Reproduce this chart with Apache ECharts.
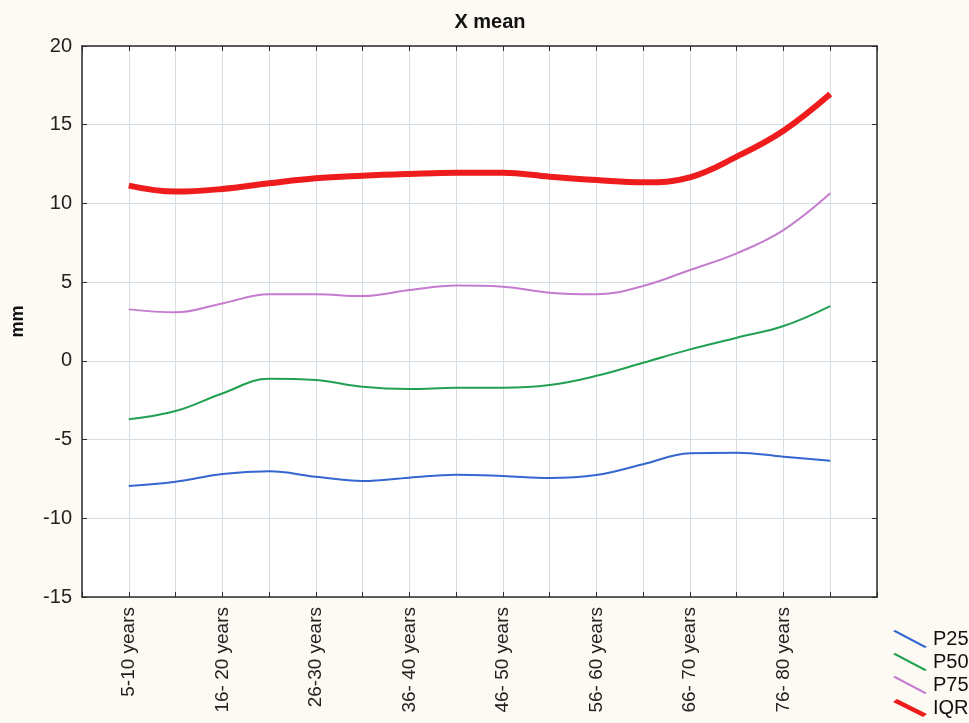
<!DOCTYPE html>
<html>
<head>
<meta charset="utf-8">
<script src="https://cdn.jsdelivr.net/npm/echarts@6/dist/echarts.min.js"></script>
<style>
html,body{margin:0;padding:0;background:#fdfaf3;}
#c{width:969px;height:723px;}
</style>
</head>
<body>
<div id="c"></div>
<script>
const categories = ['5-10 years','11-15 years','16- 20 years','21-25 years','26-30 years','31-35 years','36- 40 years','41-45 years','46- 50 years','51-55 years','56- 60 years','61-65 years','66- 70 years','71-75 years','76- 80 years','81-85 years'];
const P25 = [-7.95,-7.68,-7.19,-7.02,-7.36,-7.63,-7.42,-7.23,-7.31,-7.44,-7.25,-6.57,-5.87,-5.83,-6.09,-6.34];
const P50 = [-3.71,-3.19,-2.07,-1.14,-1.22,-1.65,-1.79,-1.71,-1.71,-1.54,-0.95,-0.12,0.73,1.47,2.21,3.48];
const P75 = [3.27,3.08,3.65,4.23,4.23,4.12,4.50,4.78,4.71,4.33,4.23,4.76,5.77,6.83,8.31,10.64];
const IQR = [11.13,10.75,10.92,11.28,11.60,11.76,11.87,11.95,11.95,11.70,11.49,11.34,11.66,12.97,14.62,16.95];
const yTicks = {min:-15, max:20, interval:5};

const cats = [''].concat(categories, ['']);
const pad = a => [null].concat(a, [null]);
const axisColor = '#2b2b2b';
const gridColor = '#d3dee5';
const FONT = 'Liberation Sans, Arial, sans-serif';

const chart = echarts.init(document.getElementById('c'));
const thin = 'path://M0,1.2 L2.2,0 L34,16.8 L31.8,18 Z';
const thick = 'path://M0,3 L4,0 L34,15 L30,18 Z';
chart.setOption({
  backgroundColor:'#fdfaf3',
  animation:false,
  title:{text:'X mean', left:485, top:7, textAlign:'center',
    textStyle:{fontFamily:FONT, fontSize:20, fontWeight:'bold', color:'#111'}},
  grid:{left:82, right:92, top:46, bottom:126, show:true, backgroundColor:'#ffffff', borderWidth:0},
  legend:{orient:'vertical', left:893, top:629, padding:0, itemWidth:34, itemHeight:18, itemGap:3,
    textStyle:{fontFamily:FONT, fontSize:20, lineHeight:18, height:18, color:'#111', padding:[2,0,0,1]},
    data:[{name:'P25',icon:thin},{name:'P50',icon:thin},{name:'P75',icon:thin},{name:'IQR',icon:thick}]},
  xAxis:[{
    type:'category', data:cats, boundaryGap:false,
    axisLine:{onZero:false, lineStyle:{color:axisColor, width:1.5}},
    axisTick:{inside:true, length:5, interval:0, lineStyle:{color:axisColor}},
    axisLabel:{rotate:90, interval:(i)=>i%2===1, margin:10, fontFamily:FONT, fontSize:19, color:'#222'},
    splitLine:{show:true, interval:0, lineStyle:{color:gridColor, width:1}}
  },{
    type:'category', data:cats, boundaryGap:false, position:'top',
    axisLine:{onZero:false, lineStyle:{color:axisColor, width:1.5}},
    axisTick:{inside:true, length:5, interval:0, lineStyle:{color:axisColor}},
    axisLabel:{show:false}, splitLine:{show:false}
  }],
  yAxis:[{
    type:'value', min:yTicks.min, max:yTicks.max, interval:yTicks.interval,
    name:'mm', nameLocation:'middle', nameGap:55, nameRotate:90,
    nameTextStyle:{fontFamily:FONT, fontSize:18, fontWeight:'bold', color:'#111'},
    axisLine:{show:true, onZero:false, lineStyle:{color:axisColor, width:1.5}},
    axisTick:{show:true, inside:true, length:5, lineStyle:{color:axisColor}},
    axisLabel:{margin:10, fontFamily:FONT, fontSize:20, color:'#222'},
    splitLine:{show:true, lineStyle:{color:gridColor, width:1}}
  },{
    type:'value', min:yTicks.min, max:yTicks.max, interval:yTicks.interval, position:'right',
    axisLine:{show:true, onZero:false, lineStyle:{color:axisColor, width:1.5}},
    axisTick:{show:true, inside:true, length:5, lineStyle:{color:axisColor}},
    axisLabel:{show:false}, splitLine:{show:false}
  }],
  series:[
    {name:'P25', type:'line', data:pad(P25), smooth:0.4, showSymbol:false, color:'#3566d0', lineStyle:{width:2, color:'#3566d0'}},
    {name:'P50', type:'line', data:pad(P50), smooth:0.4, showSymbol:false, color:'#22a052', lineStyle:{width:2, color:'#22a052'}},
    {name:'P75', type:'line', data:pad(P75), smooth:0.4, showSymbol:false, color:'#c57ccf', lineStyle:{width:2, color:'#c57ccf'}},
    {name:'IQR', type:'line', data:pad(IQR), smooth:0.4, showSymbol:false, color:'#ee1c1c', lineStyle:{width:6, color:'#ee1c1c'}}
  ]
});
</script>
</body>
</html>
